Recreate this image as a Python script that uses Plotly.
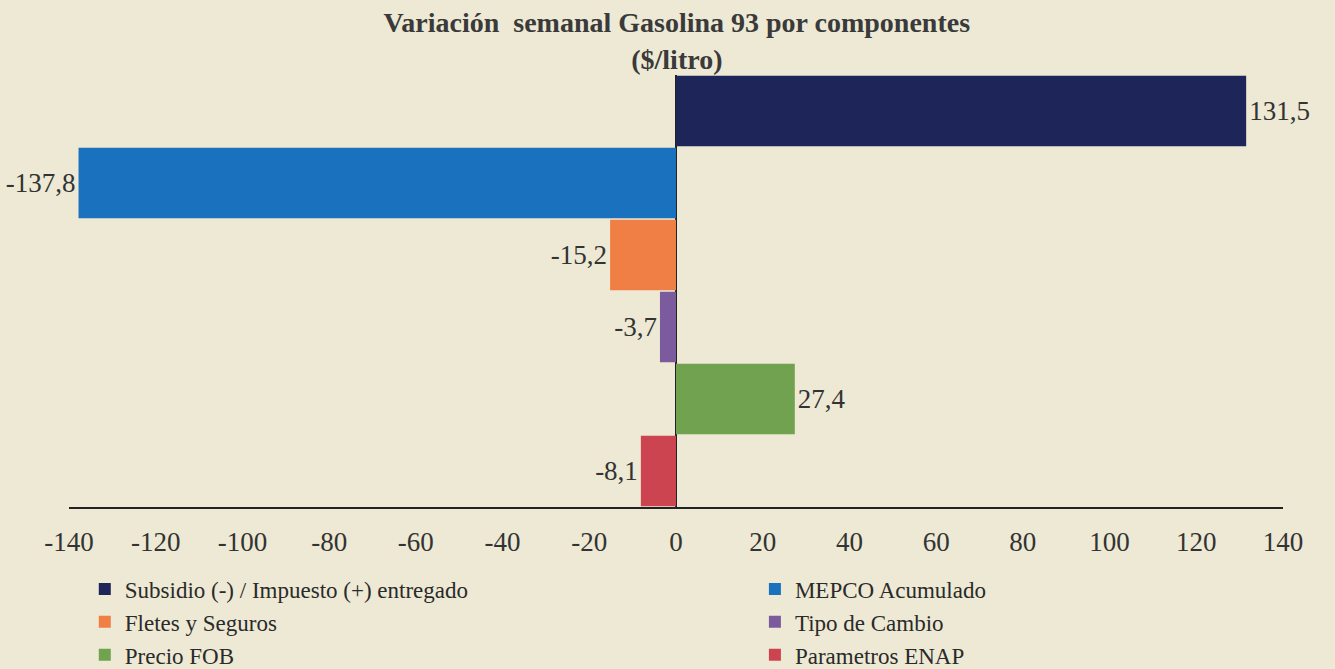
import plotly.graph_objects as go

categories = ["Subsidio (-) / Impuesto (+) entregado", "MEPCO Acumulado", "Fletes y Seguros",
              "Tipo de Cambio", "Precio FOB", "Parametros ENAP"]
values = [131.5, -137.8, -15.2, -3.7, 27.4, -8.1]
colors = ["#1E2558", "#1A72BE", "#F07F45", "#7B5B9E", "#71A24F", "#CC4450"]
legend_cols = ["legend", "legend2", "legend", "legend2", "legend", "legend2"]
tick_vals = [-140, -120, -100, -80, -60, -40, -20, 0, 20, 40, 60, 80, 100, 120, 140]
tick_text = [str(v) for v in tick_vals]

FONT = "Liberation Serif"

fig = go.Figure()
for cat, val, col, lg in zip(categories, values, colors, legend_cols):
    fig.add_trace(go.Bar(
        x=[val], y=[cat], orientation="h", name=cat, legend=lg,
        marker=dict(color=col, line=dict(width=0)),
        width=0.98,
        text=[val], texttemplate="%{x:.1f}", textposition="outside",
        textfont=dict(family=FONT, size=27, color="#333333"),
        cliponaxis=False,
    ))

legend_style = dict(
    orientation="v", xanchor="left", yanchor="top", y=-0.14,
    font=dict(family=FONT, size=23, color="#2a2a2a"),
    bgcolor="rgba(0,0,0,0)", tracegroupgap=0, itemwidth=30,
)

fig.update_layout(
    width=1335, height=669,
    separators=",.",
    barmode="overlay",
    paper_bgcolor="#EDE9D4",
    plot_bgcolor="#EDE9D4",
    margin=dict(l=69, r=52, t=75, b=162, autoexpand=False),
    font=dict(family=FONT, color="#333333"),
    title=dict(
        text="<b>Variación  semanal Gasolina 93 por componentes<br>($/litro)</b>",
        x=0.507, xanchor="center", y=0.952, yanchor="top",
        font=dict(family=FONT, size=28, color="#3a3a3a"),
    ),
    xaxis=dict(
        range=[-140, 140], tickvals=tick_vals, ticktext=tick_text, ticks="",
        tickfont=dict(family=FONT, size=27, color="#333333"),
        showgrid=False, zeroline=True, zerolinecolor="#222222", zerolinewidth=2,
        showline=True, linecolor="#222222", linewidth=2,
        ticklabelstandoff=10, layer="above traces",
    ),
    yaxis=dict(
        categoryorder="array", categoryarray=categories, autorange="reversed",
        showticklabels=False, showgrid=False, zeroline=False, showline=False, ticks="",
    ),
    legend=dict(x=0.013, **legend_style),
    legend2=dict(x=0.565, **legend_style),
    showlegend=True,
)

fig.write_html("out.html", config={"displayModeBar": False})
with open("out.html", encoding="utf-8") as f:
    html = f.read()
html = html.replace("<head>", "<head><style>html,body{margin:0;padding:0;overflow:hidden;background:#EDE9D4;}</style>", 1)
with open("out.html", "w", encoding="utf-8") as f:
    f.write(html)
